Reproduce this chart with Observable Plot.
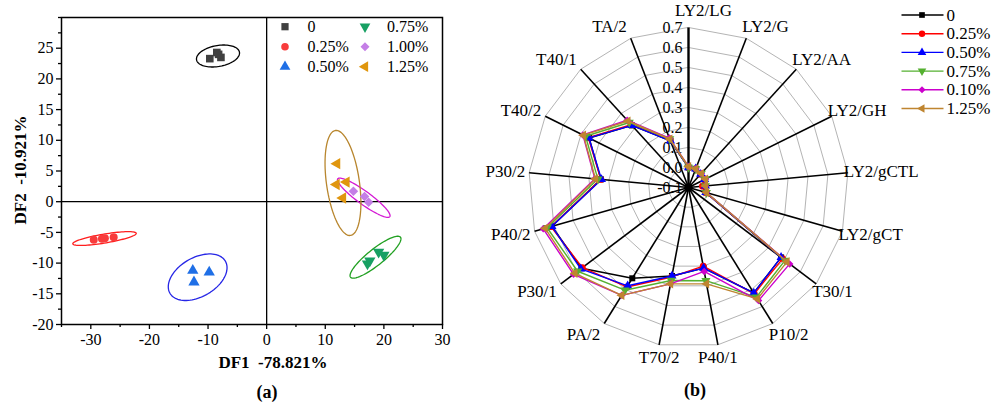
<!DOCTYPE html>
<html><head><meta charset="utf-8">
<script src="https://cdn.jsdelivr.net/npm/d3@7"></script>
<script src="https://cdn.jsdelivr.net/npm/@observablehq/plot@0.6"></script>
<style>
html,body{margin:0;padding:0;background:#fff;}
#root{position:relative;width:993px;height:403px;overflow:hidden;font-family:"Liberation Serif","Times New Roman",serif;background:#fff;}
#pa,#pb,#ov{position:absolute;top:0;}
#pa{left:0}#pb{left:460px}#ov{left:0;pointer-events:none}
</style></head>
<body><div id="root"><div id="pa"></div><div id="pb"></div><svg id="ov" width="993" height="403"></svg></div>
<script>
// ---------------- Panel (a): discriminant scores ----------------
const groups = ["0", "0.25%", "0.50%", "0.75%", "1.00%", "1.25%"];
const pts_0   = [[-9.7, 23.3], [-8.5, 24.3], [-7.8, 23.5], [-8.2, 24.0]];
const pts_025 = [[-29.5, -6.2], [-28.1, -6.05], [-27.6, -5.95], [-26.1, -5.8]];
const pts_050 = [[-12.6, -11.2], [-12.4, -13.1], [-9.8, -11.5]];
const pts_075 = [[17.2, -10.1], [17.6, -9.6], [19.1, -8.2], [20.0, -8.7]];
const pts_100 = [[14.8, 1.7], [16.7, 0.85], [17.4, -0.1]];
const pts_125 = [[12.0, 6.2], [11.9, 2.8], [13.6, 3.2], [13.0, 0.6]];
const groupPoints = [pts_0, pts_025, pts_050, pts_075, pts_100, pts_125];
// confidence ellipses: centre and two conjugate semi-axis vectors (data units)
const ellCenter = [[-8.30, 23.73], [-27.66, -6.0], [-11.77, -12.3], [18.57, -9.04], [16.57, 0.65], [13.02, 3.05]];
const ellU = [[3.66, 0.62], [5.41, 0.86], [4.73, 2.61], [4.26, 3.26], [4.44, -3.08], [1.28, -8.55]];
const ellV = [[0.31, -1.68], [0.13, -0.72], [1.66, -2.75], [0.85, -1.02], [-0.65, -0.86], [-2.78, -0.38]];
const xTicks = [-30, -20, -10, 0, 10, 20, 30];
const xMinor = [-35, -25, -15, -5, 5, 15, 25];
const yTicks = [-20, -15, -10, -5, 0, 5, 10, 15, 20, 25];
const yMinor = [-17.5, -12.5, -7.5, -2.5, 2.5, 7.5, 12.5, 17.5, 22.5, 27.5, 30];

// ---------------- Panel (b): radar ----------------
const radarAxes = ["LY2/LG", "LY2/G", "LY2/AA", "LY2/GH", "LY2/gCTL", "LY2/gCT", "T30/1", "P10/2", "P40/1",
  "T70/2", "PA/2", "P30/1", "P40/2", "P30/2", "T40/2", "T40/1", "TA/2"];
const radarSeries = ["0", "0.25%", "0.50%", "0.75%", "0.10%", "1.25%"];
const r_0   = [0.0, 0.0, -0.01, -0.01, -0.02, -0.01, 0.48, 0.52, 0.31, 0.35, 0.434, 0.57, 0.61, 0.34, 0.455, 0.32, 0.15];
const r_025 = [0.0, 0.0, -0.01, -0.01, -0.03, -0.01, 0.49, 0.525, 0.30, 0.355, 0.485, 0.565, 0.615, 0.34, 0.46, 0.325, 0.155];
const r_050 = [0.0, 0.0, -0.01, -0.01, -0.015, -0.01, 0.48, 0.52, 0.31, 0.35, 0.478, 0.575, 0.61, 0.337, 0.456, 0.32, 0.15];
const r_075 = [0.0, 0.0, -0.005, -0.005, -0.015, -0.007, 0.505, 0.545, 0.374, 0.373, 0.504, 0.595, 0.635, 0.355, 0.475, 0.34, 0.16];
const r_010 = [0.005, 0.0, -0.005, -0.005, -0.015, -0.007, 0.534, 0.565, 0.327, 0.39, 0.534, 0.62, 0.655, 0.37, 0.49, 0.355, 0.165];
const r_125 = [0.005, 0.0, -0.005, -0.005, -0.015, -0.007, 0.517, 0.555, 0.39, 0.39, 0.534, 0.612, 0.645, 0.367, 0.487, 0.35, 0.16];
const radarValues = [r_0, r_025, r_050, r_075, r_010, r_125];
const radarTicks = [-0.1, 0.0, 0.1, 0.2, 0.3, 0.4, 0.5, 0.6, 0.7];

// ---------------- styles ----------------
const FONT = "Liberation Serif, Times New Roman, serif";
const ptFill = ["#404040", "#f83c3c", "#1f6fe6", "#17a063", "#c47fe6", "#e0960e"];
const ellStroke = ["#000000", "#ff1e1e", "#2626e6", "#22a022", "#d41ad4", "#b8862e"];
const ptR = [4.3, 4.0, 4.2, 4.2, 4.3, 4.2];
const radarColors = ["#000000", "#ff0000", "#0000ff", "#55b030", "#cc00cc", "#bf8530"];

const S3 = Math.sqrt(3);
const symDown = {draw(ctx, size) { const y = -Math.sqrt(size / (S3 * 3)); ctx.moveTo(0, -2 * y); ctx.lineTo(-S3 * y, y); ctx.lineTo(S3 * y, y); ctx.closePath(); }};
const symLeft = {draw(ctx, size) { const y = -Math.sqrt(size / (S3 * 3)); ctx.moveTo(2 * y, 0); ctx.lineTo(-y, S3 * y); ctx.lineTo(-y, -S3 * y); ctx.closePath(); }};
const symDiam = d3.symbolDiamond2 || d3.symbolDiamond;
const symbols = [d3.symbolSquare, d3.symbolCircle, d3.symbolTriangle, symDown, symDiam, symLeft];

// ---------- Panel (a) plot ----------
const ellRows = groups.map((g, k) => d3.range(0, 360, 4).map(deg => {
  const t = deg * Math.PI / 180;
  return {x: ellCenter[k][0] + ellU[k][0] * Math.cos(t) + ellV[k][0] * Math.sin(t),
          y: ellCenter[k][1] + ellU[k][1] * Math.cos(t) + ellV[k][1] * Math.sin(t)};
}));
const fmt = d => String(d);
const plotA = Plot.plot({
  width: 460, height: 360,
  marginLeft: 61, marginRight: 18, marginTop: 17, marginBottom: 36,
  x: {domain: [-35, 30]},
  y: {domain: [-20, 30]},
  style: {fontFamily: FONT, fontSize: "16px", color: "black", background: "transparent", overflow: "visible"},
  marks: [
    Plot.axisX({ticks: xTicks, tickSize: 5, tickPadding: 4, tickFormat: fmt, label: null, fontSize: 16, strokeWidth: 1.3}),
    Plot.axisX({ticks: xMinor, tickSize: 3, tickFormat: () => "", label: null, strokeWidth: 1.3}),
    Plot.axisY({ticks: yTicks, tickSize: 5, tickPadding: 3, tickFormat: fmt, label: null, fontSize: 16, strokeWidth: 1.3}),
    Plot.axisY({ticks: yMinor, tickSize: 3, tickFormat: () => "", label: null, strokeWidth: 1.3}),
    Plot.ruleX([0], {stroke: "black", strokeWidth: 1.3}),
    Plot.ruleY([0], {stroke: "black", strokeWidth: 1.3}),
    ...ellRows.map((rows, k) => Plot.line(rows, {x: "x", y: "y", stroke: ellStroke[k], strokeWidth: 1.3, curve: "linear-closed"})),
    ...groupPoints.map((pts, k) => Plot.dot(pts, {x: d => d[0], y: d => d[1], fill: ptFill[k], stroke: "none", r: ptR[k], symbol: symbols[k]})),
    Plot.frame({stroke: "black", strokeWidth: 1.5})
  ]
});
document.getElementById("pa").appendChild(plotA);

// ---------- Panel (b) plot ----------
const N = radarAxes.length;
const ang = i => 2 * Math.PI * i / N;
const R_MIN = radarTicks[0], R_MAX = radarTicks[radarTicks.length - 1];
const PX = 200, CX = 228, CY = 187, WB = 533, HB = 403;
const rad = v => v - R_MIN;
const ringRows = radarTicks.filter(t => t > R_MIN).map(t => radarAxes.map((a, i) => ({x: rad(t) * Math.sin(ang(i)), y: rad(t) * Math.cos(ang(i))})));
const spokeRows = radarAxes.map((a, i) => ({a, i, x2: rad(R_MAX) * Math.sin(ang(i)), y2: rad(R_MAX) * Math.cos(ang(i))}));
const labelRows = radarAxes.map((a, i) => {
  const s = Math.sin(ang(i)), c = Math.cos(ang(i));
  const anchor = s > 0.3 ? "start" : s < -0.3 ? "end" : "middle";
  let dxp = anchor === "middle" ? 0 : -4, dyp = 13 * c;
  if (c > 0.95) { dxp = 15; dyp = 17; }   // top label sits right of the value axis
  return {a, anchor, x: rad(R_MAX) * s + dxp / PX, y: rad(R_MAX) * c + dyp / PX};
});
const seriesRows = radarValues.map(vals => vals.map((v, i) => ({x: rad(v) * Math.sin(ang(i)), y: rad(v) * Math.cos(ang(i))})));
const plotB = Plot.plot({
  width: WB, height: HB, margin: 0,
  x: {domain: [-CX / PX, (WB - CX) / PX], axis: null},
  y: {domain: [-(HB - CY) / PX, CY / PX], axis: null},
  style: {fontFamily: FONT, fontSize: "16px", color: "black", background: "transparent", overflow: "visible"},
  marks: [
    ...ringRows.map(rows => Plot.line(rows, {x: "x", y: "y", stroke: "#b4b4b4", strokeWidth: 1, curve: "linear-closed"})),
    Plot.text(radarTicks, {x: () => 0, y: t => rad(t), text: t => t.toFixed(1), textAnchor: "end", dx: -6, fontSize: 16, fill: "black"}),
    Plot.link(spokeRows, {x1: () => 0, y1: () => 0, x2: "x2", y2: "y2", stroke: "black", strokeWidth: d => d.i === 0 ? 2.4 : 1.6}),
    ...seriesRows.flatMap((rows, k) => [
      Plot.line(rows, {x: "x", y: "y", stroke: radarColors[k], strokeWidth: 1.4, curve: "linear-closed"}),
      Plot.dot(rows, {x: "x", y: "y", fill: radarColors[k], stroke: "none", r: 3.4, symbol: symbols[k]})
    ]),
    Plot.dot([0], {x: () => 0, y: () => 0, r: 4, fill: "black"}),
    ...["start", "middle", "end"].map(anc => Plot.text(labelRows.filter(d => d.anchor === anc),
      {x: "x", y: "y", text: "a", textAnchor: anc, lineAnchor: "middle", fontSize: 17, fill: "black"}))
  ]
});
document.getElementById("pb").appendChild(plotB);

// ---------- titles & legends (overlay) ----------
const symPath = (sym, size) => d3.symbol().type(sym).size(size)();
let ov = "";
ov += `<text x="273" y="362" text-anchor="middle" dominant-baseline="central" font-family="${FONT}" font-weight="bold" font-size="17" style="white-space:pre">DF1  -78.821%</text>`;
ov += `<text transform="translate(20,170) rotate(-90)" text-anchor="middle" dominant-baseline="central" font-family="${FONT}" font-weight="bold" font-size="17" style="white-space:pre">DF2  -10.921%</text>`;
ov += `<text x="267" y="392" text-anchor="middle" dominant-baseline="central" font-family="${FONT}" font-weight="bold" font-size="18">(a)</text>`;
ov += `<text x="695" y="390" text-anchor="middle" dominant-baseline="central" font-family="${FONT}" font-weight="bold" font-size="18">(b)</text>`;
// legend (a)
groups.forEach((g, k) => {
  const col = Math.floor(k / 3), row = k % 3;
  const sx = col ? 365 : 285, tx = col ? 387 : 307.5, y = 26.7 + row * 20;
  ov += `<path transform="translate(${sx},${y})" d="${symPath(symbols[k], Math.PI * ptR[k] * ptR[k] * 0.9)}" fill="${ptFill[k]}"/>`;
  ov += `<text x="${tx}" y="${y}" dominant-baseline="central" font-family="${FONT}" font-size="16">${g}</text>`;
});
// legend (b)
radarSeries.forEach((s, k) => {
  const y = 15 + k * 18.7;
  ov += `<line x1="901.5" x2="943.5" y1="${y}" y2="${y}" stroke="${radarColors[k]}" stroke-width="1.4"/>`;
  ov += `<path transform="translate(922,${y})" d="${symPath(symbols[k], Math.PI * 3.2 * 3.2)}" fill="${radarColors[k]}"/>`;
  ov += `<text x="946.5" y="${y}" dominant-baseline="central" font-family="${FONT}" font-size="17">${s}</text>`;
});
document.getElementById("ov").innerHTML = ov;
</script></body></html>
